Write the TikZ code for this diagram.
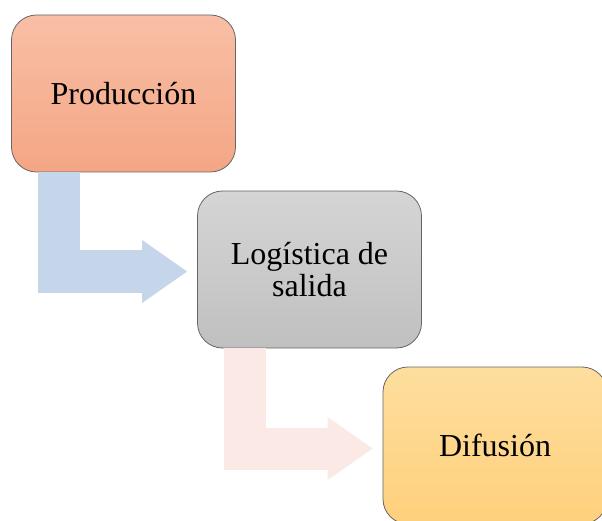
\documentclass[tikz,border=0pt]{standalone}
\usepackage{fontspec}
\setmainfont{Liberation Serif}
\usetikzlibrary{arrows.meta}

\definecolor{prodtop}{RGB}{248,191,166}
\definecolor{prodbot}{RGB}{244,166,132}
\definecolor{logitop}{RGB}{213,213,213}
\definecolor{logibot}{RGB}{192,192,192}
\definecolor{difutop}{RGB}{254,222,158}
\definecolor{difubot}{RGB}{254,208,124}
\definecolor{flowblue}{RGB}{197,213,234}
\definecolor{flowpink}{RGB}{251,233,229}

\tikzset{
  stage/.style={draw=black!60, line width=0.8pt, rounded corners=25pt,
    minimum width=224pt, minimum height=157pt, inner sep=0pt,
    align=center, font=\fontsize{32}{32}\selectfont},
  flow/.style={line width=42pt,
    -{Triangle[length=45pt 0 0, width=63pt 0 0, line width=0pt]}},
}

\begin{document}
\begin{tikzpicture}[x=1pt, y=-1pt]
                \clip (0, 0) rectangle (602, 521);

                \node[stage, top color=prodtop, bottom color=prodbot] (prod) at (123.5, 93.5) {Producción};
                \node[stage, top color=logitop, bottom color=logibot] (logi) at (309.5, 269.5) {Logística de\\salida};
                \node[stage, top color=difutop, bottom color=difubot] (difu) at (495, 445.5) {Difusión};

                \draw[flow, color=flowblue] ([xshift=48pt]prod.south west) |- ([xshift=-10pt, yshift=-2pt]logi.west);
                \draw[flow, color=flowpink] ([xshift=48pt]logi.south west) |- ([xshift=-10pt, yshift=-3pt]difu.west);
            \end{tikzpicture}
\end{document}
